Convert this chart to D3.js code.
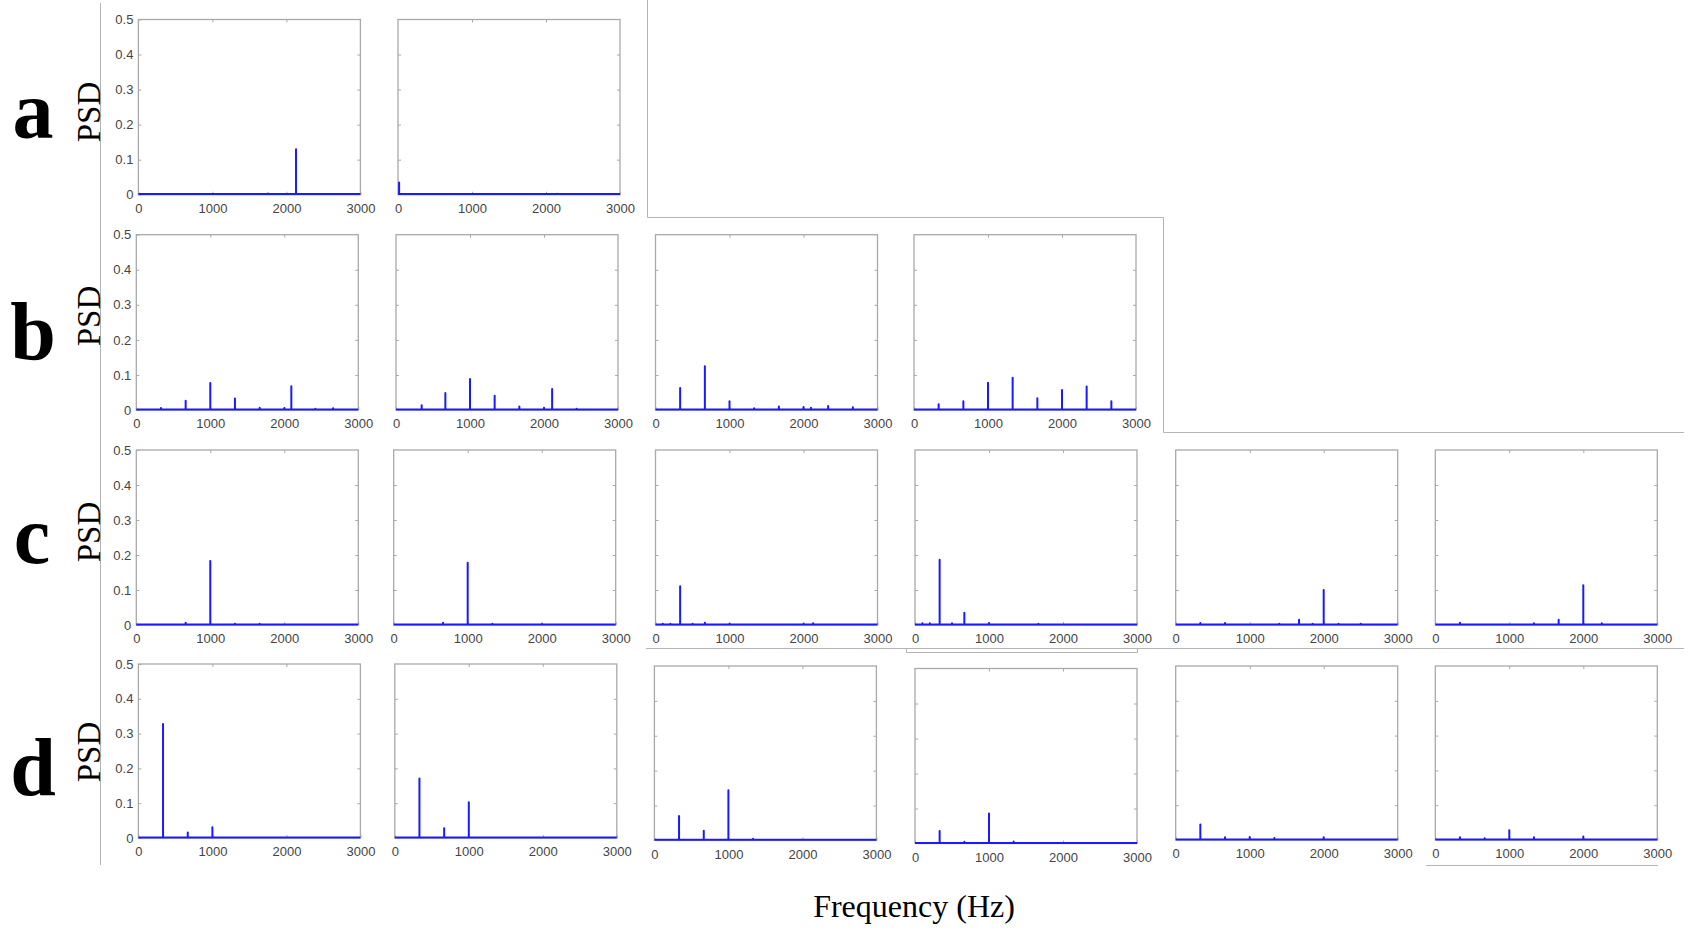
<!DOCTYPE html>
<html>
<head>
<meta charset="utf-8">
<script src="https://cdn.jsdelivr.net/npm/d3@7"></script>
<style>
  html, body { margin: 0; padding: 0; background: #ffffff; }
  svg { display: block; }
</style>
</head>
<body>
<svg id="chart" width="1696" height="930"></svg>
<script>
// ---------------- data ----------------
const xTicks = [0, 1000, 2000, 3000];
const yTicks = [0, 0.1, 0.2, 0.3, 0.4, 0.5];
const rowLetters = ["a", "b", "c", "d"];
const yAxisTitle = "PSD";
const xAxisTitle = "Frequency (Hz)";

// peak frequencies (Hz) and PSD heights, one pair per panel
const a1Freq = [1750, 2130];
const a1Psd  = [0.002, 0.128];
const a2Freq = [15, 2150];
const a2Psd  = [0.033, 0.001];

const b1Freq = [333, 667, 1000, 1333, 1667, 2000, 2095, 2420, 2660];
const b1Psd  = [0.004, 0.025, 0.075, 0.031, 0.005, 0.004, 0.066, 0.002, 0.003];
const b2Freq = [347, 667, 1000, 1333, 1667, 2000, 2110, 2440];
const b2Psd  = [0.012, 0.047, 0.087, 0.039, 0.008, 0.005, 0.058, 0.002];
const b3Freq = [333, 667, 1000, 1333, 1667, 2000, 2100, 2333, 2667];
const b3Psd  = [0.061, 0.123, 0.023, 0.003, 0.008, 0.007, 0.005, 0.010, 0.006];
const b4Freq = [333, 667, 1000, 1333, 1667, 2000, 2333, 2667];
const b4Psd  = [0.015, 0.023, 0.076, 0.090, 0.032, 0.055, 0.065, 0.023];

const c1Freq = [667, 1000, 1333, 1667];
const c1Psd  = [0.005, 0.181, 0.002, 0.002];
const c2Freq = [667, 1000, 1333, 2000];
const c2Psd  = [0.005, 0.176, 0.002, 0.001];
const c3Freq = [100, 200, 333, 500, 667, 1000, 2000, 2130];
const c3Psd  = [0.002, 0.002, 0.109, 0.002, 0.005, 0.002, 0.002, 0.003];
const c4Freq = [100, 200, 333, 500, 667, 1000, 1667];
const c4Psd  = [0.003, 0.003, 0.185, 0.003, 0.033, 0.004, 0.002];
const c5Freq = [333, 667, 1400, 1667, 1850, 2000, 2200, 2500];
const c5Psd  = [0.004, 0.004, 0.002, 0.013, 0.002, 0.098, 0.002, 0.002];
const c6Freq = [333, 1333, 1667, 2000, 2250];
const c6Psd  = [0.005, 0.003, 0.013, 0.112, 0.003];

const d1Freq = [333, 667, 1000];
const d1Psd  = [0.326, 0.014, 0.029];
const d2Freq = [333, 667, 1000];
const d2Psd  = [0.169, 0.026, 0.101];
const d3Freq = [333, 667, 1000, 1333];
const d3Psd  = [0.068, 0.026, 0.142, 0.003];
const d4Freq = [333, 667, 1000, 1333];
const d4Psd  = [0.034, 0.003, 0.084, 0.004];
const d5Freq = [333, 667, 1000, 1333, 2000];
const d5Psd  = [0.043, 0.006, 0.007, 0.004, 0.006];
const d6Freq = [333, 667, 1000, 1333, 2000];
const d6Psd  = [0.006, 0.003, 0.026, 0.006, 0.008];

const seriesByPanel = {
  a1: [a1Freq, a1Psd], a2: [a2Freq, a2Psd],
  b1: [b1Freq, b1Psd], b2: [b2Freq, b2Psd], b3: [b3Freq, b3Psd], b4: [b4Freq, b4Psd],
  c1: [c1Freq, c1Psd], c2: [c2Freq, c2Psd], c3: [c3Freq, c3Psd],
  c4: [c4Freq, c4Psd], c5: [c5Freq, c5Psd], c6: [c6Freq, c6Psd],
  d1: [d1Freq, d1Psd], d2: [d2Freq, d2Psd], d3: [d3Freq, d3Psd],
  d4: [d4Freq, d4Psd], d5: [d5Freq, d5Psd], d6: [d6Freq, d6Psd]
};

// ---------------- layout ----------------
const W = 222;
const panels = [
  {id: "a1", x: 138.4, top: 19.5,  bottom: 194.7, first: true},
  {id: "a2", x: 398.0, top: 19.5,  bottom: 194.7},
  {id: "b1", x: 136.3, top: 234.7, bottom: 410.0, first: true},
  {id: "b2", x: 396.0, top: 234.7, bottom: 410.0},
  {id: "b3", x: 655.5, top: 234.7, bottom: 410.0},
  {id: "b4", x: 914.0, top: 234.7, bottom: 410.0},
  {id: "c1", x: 136.3, top: 450.0, bottom: 625.0, first: true},
  {id: "c2", x: 393.7, top: 450.0, bottom: 625.0},
  {id: "c3", x: 655.5, top: 450.0, bottom: 625.0},
  {id: "c4", x: 915.0, top: 450.0, bottom: 625.0},
  {id: "c5", x: 1175.7, top: 450.0, bottom: 625.0},
  {id: "c6", x: 1435.3, top: 450.0, bottom: 625.0},
  {id: "d1", x: 138.4, top: 664.0, bottom: 838.0, first: true},
  {id: "d2", x: 394.8, top: 664.0, bottom: 838.0},
  {id: "d3", x: 654.4, top: 666.0, bottom: 840.4},
  {id: "d4", x: 915.0, top: 668.5, bottom: 843.5},
  {id: "d5", x: 1175.7, top: 666.0, bottom: 840.0},
  {id: "d6", x: 1435.3, top: 666.0, bottom: 840.0}
];
const letterPos = [
  {x: 33, y: 138}, {x: 33, y: 359}, {x: 32, y: 563}, {x: 33, y: 795}
];
const psdPos = [112, 316, 532, 752];

const svg = d3.select("#chart");
const frameColor = "#b4b4b4";

// composite frame lines (panel cut edges)
const frame = svg.append("g").attr("fill", "none").attr("stroke", frameColor).attr("stroke-width", 1);
frame.append("path").attr("d", "M100.5,3V865");
frame.append("path").attr("d", "M647.5,0V217.5H1163.5V432.5H1684");
frame.append("path").attr("d", "M646,648.5H1684");
frame.append("path").attr("d", "M906.5,648.5V652.5H1137.5V648.5");
frame.append("path").attr("d", "M1426,865.5H1658");

const tickFont = "'Liberation Sans', Arial, sans-serif";

panels.forEach(p => {
  const [freq, psd] = seriesByPanel[p.id];
  const x = d3.scaleLinear().domain([0, 3000]).range([p.x, p.x + W]);
  const y = d3.scaleLinear().domain([0, 0.5]).range([p.bottom, p.top]);
  const g = svg.append("g");

  // box
  g.append("rect")
    .attr("x", x(0)).attr("y", y(0.5))
    .attr("width", x(3000) - x(0)).attr("height", y(0) - y(0.5))
    .attr("fill", "#ffffff").attr("stroke", "#a9a9a9").attr("stroke-width", 1.3);

  // bottom axis with labels (inward ticks)
  const gx = g.append("g").attr("transform", `translate(0,${y(0)})`)
    .call(d3.axisBottom(x).tickValues(xTicks).tickSizeInner(-3).tickSizeOuter(0).tickPadding(9).tickFormat(d3.format("d")));
  gx.select(".domain").remove();
  gx.selectAll("line").attr("stroke", "#a9a9a9");
  gx.selectAll("text").attr("fill", "#444").style("font-family", tickFont).style("font-size", "13px");

  // top axis ticks
  const gt = g.append("g").attr("transform", `translate(0,${y(0.5)})`)
    .call(d3.axisTop(x).tickValues(xTicks.slice(1, -1)).tickSizeInner(-3).tickSizeOuter(0).tickFormat(""));
  gt.select(".domain").remove();
  gt.selectAll("line").attr("stroke", "#a9a9a9");

  // left axis
  const gy = g.append("g").attr("transform", `translate(${x(0)},0)`)
    .call(d3.axisLeft(y).tickValues(p.first ? yTicks : yTicks.slice(1, -1))
      .tickSizeInner(-3).tickSizeOuter(0).tickPadding(5)
      .tickFormat(p.first ? d3.format("") : ""));
  gy.select(".domain").remove();
  gy.selectAll("line").attr("stroke", "#a9a9a9");
  gy.selectAll("text").attr("fill", "#444").style("font-family", tickFont).style("font-size", "13px");

  // right axis ticks
  const gr = g.append("g").attr("transform", `translate(${x(3000)},0)`)
    .call(d3.axisRight(y).tickValues(yTicks.slice(1, -1)).tickSizeInner(-3).tickSizeOuter(0).tickFormat(""));
  gr.select(".domain").remove();
  gr.selectAll("line").attr("stroke", "#a9a9a9");

  // spectrum trace: baseline with spikes at the peaks
  const pts = [[0, 0]];
  freq.forEach((f, i) => { pts.push([f, 0], [f, psd[i]], [f, 0]); });
  pts.push([3000, 0]);
  const line = d3.line().x(d => x(d[0])).y(d => y(d[1]) - 0.6);
  g.append("path")
    .attr("d", line(pts))
    .attr("fill", "none")
    .attr("stroke", "#1a1aff")
    .attr("stroke-width", 2)
    .attr("stroke-linejoin", "round");
});

// row letters and PSD titles
rowLetters.forEach((l, i) => {
  svg.append("text")
    .attr("x", letterPos[i].x).attr("y", letterPos[i].y)
    .attr("text-anchor", "middle")
    .style("font-family", "'Liberation Serif', 'Times New Roman', serif")
    .style("font-weight", "bold")
    .style("font-size", "82px")
    .attr("fill", "#000")
    .text(l);
  svg.append("text")
    .attr("transform", `translate(100,${psdPos[i]}) rotate(-90)`)
    .attr("text-anchor", "middle")
    .style("font-family", "'Liberation Serif', 'Times New Roman', serif")
    .style("font-size", "33px")
    .attr("fill", "#000")
    .text(yAxisTitle);
});

svg.append("text")
  .attr("x", 914).attr("y", 917)
  .attr("text-anchor", "middle")
  .style("font-family", "'Liberation Serif', 'Times New Roman', serif")
  .style("font-size", "32px")
  .attr("fill", "#000")
  .text(xAxisTitle);
</script>
</body>
</html>
